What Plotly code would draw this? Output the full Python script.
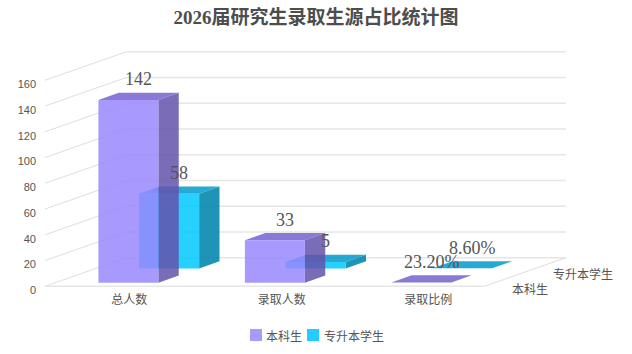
import plotly.graph_objects as go

categories = ["总人数", "录取人数", "录取比例"]
series_names = ["本科生", "专升本学生"]
undergrad = [142, 33, 0.232]
transfer = [58, 5, 0.086]
undergrad_labels = ["142", "33", "23.20%"]
transfer_labels = ["58", "5", "8.60%"]
y_ticks = [0, 20, 40, 60, 80, 100, 120, 140, 160]

W, H = 632, 354
# pixel scales of the drawing
PX_X = 146.5           # px per category
PX_Y = 1.2875          # px per value unit
X0_PX = 118.2          # px of category 0 centre
Y0_PX = 286.3          # px of value 0 on the front plane
DEPTH_DX, DEPTH_DY = 81.5, 28.6   # px shift of full depth
BAR_W = 60 / PX_X
BAR_D = 0.25
ROWS = [0.25, 0.75]

FONT_CN = "Noto Sans CJK SC"
SERIF = "Liberation Serif, Noto Sans CJK SC"
TEXT = "#555555"
LEGEND_COLORS = ["#a899ff", "#22ccff"]


def P(cat, val, depth):
    """Project a (category, value, depth) triple on the 2D axes."""
    return (cat + depth * DEPTH_DX / PX_X, val + depth * DEPTH_DY / PX_Y)


def from_px(px, py):
    return ((px - X0_PX) / PX_X, (Y0_PX - py) / PX_Y)


def poly(fig, pts, color):
    fig.add_trace(go.Scatter(
        x=[p[0] for p in pts] + [pts[0][0]],
        y=[p[1] for p in pts] + [pts[0][1]],
        mode="lines", fill="toself", fillcolor=color,
        line=dict(width=0, color=color), hoverinfo="skip", showlegend=False,
    ))


def line(fig, a, b, color, width=1):
    fig.add_trace(go.Scatter(
        x=[a[0], b[0]], y=[a[1], b[1]], mode="lines",
        line=dict(color=color, width=width), hoverinfo="skip", showlegend=False,
    ))


fig = go.Figure()

# walls
left, right = -0.5, 2.5
for t in y_ticks:
    line(fig, P(left, t, 0), P(left, t, 1), "#dedede")
    line(fig, P(left, t, 1), P(right, t, 1), "#e6e6e6", 1.5)
line(fig, P(left, 0, 0), P(right, 0, 0), "#e6e6e6", 1.5)
line(fig, P(right, 0, 0), P(right, 0, 1), "#dedede")

styles = [
    dict(front="rgba(153,135,255,0.85)", top="rgba(122,104,208,0.88)", side="rgba(100,82,170,0.85)"),
    dict(front="rgba(0,200,255,0.85)", top="rgba(0,155,205,0.85)", side="rgba(0,133,173,0.88)"),
]
data = [undergrad, transfer]
labels = [undergrad_labels, transfer_labels]

# rear row first so the front row overlays it
for s in (1, 0):
    st = styles[s]
    d0, d1 = ROWS[s] - BAR_D / 2, ROWS[s] + BAR_D / 2
    for i, v in enumerate(data[s]):
        a, b = i - BAR_W / 2, i + BAR_W / 2
        poly(fig, [P(b, 0, d0), P(b, 0, d1), P(b, v, d1), P(b, v, d0)], st["side"])
        poly(fig, [P(a, v, d0), P(b, v, d0), P(b, v, d1), P(a, v, d1)], st["top"])
        poly(fig, [P(a, 0, d0), P(b, 0, d0), P(b, v, d0), P(a, v, d0)], st["front"])

# data labels
for s in (0, 1):
    for i, v in enumerate(data[s]):
        x, y = P(i, v, ROWS[s])
        fig.add_annotation(x=x, y=y, text=labels[s][i], showarrow=False, xanchor="center", yanchor="middle",
                           yshift=17, font=dict(family=SERIF, size=18, color=TEXT))

# depth-axis labels
for s, nm in enumerate(series_names):
    x, y = P(right, 0, ROWS[s])
    fig.add_annotation(x=x, y=y, text=nm, showarrow=False, xanchor="left", yanchor="middle",
                       xshift=5, yshift=-9, font=dict(family=FONT_CN, size=12, color=TEXT))

# legend row
for s, (sx, tx) in enumerate([(256, 264), (313, 322)]):
    x, y = from_px(sx, 335)
    fig.add_trace(go.Scatter(x=[x], y=[y], mode="markers", name=series_names[s],
                             marker=dict(symbol="square", size=12, color=LEGEND_COLORS[s]),
                             hoverinfo="skip", showlegend=False))
    x, y = from_px(tx, 335)
    fig.add_annotation(x=x, y=y, text=series_names[s], showarrow=False, xanchor="left", yanchor="middle",
                       font=dict(family=FONT_CN, size=12, color=TEXT))

fig.update_layout(
    width=W, height=H, margin=dict(l=0, r=0, t=0, b=0),
    paper_bgcolor="white", plot_bgcolor="white",
    title=dict(text="<b>2026届研究生录取生源占比统计图</b>", x=0.5, xanchor="center", y=0.95, yanchor="middle",
               font=dict(family=SERIF, size=19, color="#4d4d4d")),
    xaxis=dict(range=[-X0_PX / PX_X, (W - X0_PX) / PX_X], domain=[0, 1], anchor="free", position=(H - 291) / H,
               tickvals=[0.075, 1.117, 2.117], ticktext=categories, showgrid=False, zeroline=False,
               showline=False, ticks="", tickfont=dict(family=FONT_CN, size=12, color=TEXT), fixedrange=True),
    yaxis=dict(range=[(Y0_PX - H) / PX_Y, Y0_PX / PX_Y], domain=[0, 1], anchor="free", position=36 / W,
               tickvals=y_ticks, showgrid=False, zeroline=False, showline=False, ticks="", ticklabelshift=4,
               tickfont=dict(family="Liberation Sans", size=11, color=TEXT), fixedrange=True),
    showlegend=False,
)
fig.write_html("out.html", config={"displayModeBar": False},
               post_script="document.body.style.margin='0';document.documentElement.style.overflow='hidden';")
